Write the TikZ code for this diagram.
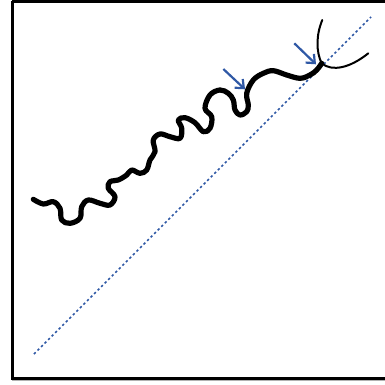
\documentclass[tikz,border=0pt]{standalone}
\usetikzlibrary{arrows.meta}
\definecolor{lineblue}{RGB}{47,88,165}
\tikzset{
	wave/.style={line width=5.2pt, line cap=round, line join=round},
	branch/.style={line width=2pt, line cap=round},
	hit/.style={line width=2.2pt, lineblue, -{Straight Barb[length=7pt,width=12pt]}}
}
\begin{document}
\begin{tikzpicture}[x=1pt,y=-1pt]
	\useasboundingbox (0,0) rectangle (385,385);
	% frame
	\draw[line width=3pt] (12,1.5) -- (12,378) -- (395,378);
	\draw[line width=3pt] (12,1.5) -- (395,1.5);
	\draw[gray!60, line width=1pt] (12,380) -- (395,380);
	
	% diagonal
	\draw[lineblue, line width=1.5pt, dash pattern=on 2.4pt off 2.6pt] (34,354) -- (371,17);
	
	% the wave
	\draw[wave] plot[smooth, tension=0.6] coordinates {(33.3,199.3) (43.3,204) (53.3,201.7) (60,208.3) (61.7,220) (70,223.3) (80,218.3) (81.7,206.7) (88.3,200) (100,203.3) (110,205) (115,196.7) (108.3,188.3) (110,181.7) (118.3,180) (126.7,175) (131.7,170) (140,173.3) (146.7,170) (150,160) (155,151.7) (153.3,140) (160,134) (170,136.7) (180,138.3) (181.7,128.3) (178.3,120) (185,117.7) (195,122.7) (203.3,131.7) (210,128.3) (211.7,116.7) (205,108.3) (210,95) (220,90) (228.3,93.3) (233.3,100) (235,110) (240,115) (246.7,111.7) (248.3,105) (246.7,93.3) (253.3,80) (263.3,73.3) (273.3,70.7) (286.7,75) (300,78.3) (310,75) (316.7,70) (321.7,63.3)};
	\coordinate (split) at (321.7,63.3);
	
	% branches
	\draw[branch] (split) .. controls (316,52) and (316,35) .. (322.3,20);
	\draw[branch] (split) .. controls (332,72) and (350,68) .. (368.3,53.3);
	
	% arrows
	\coordinate (a1) at (223.3,69);
	\coordinate (b1) at (245,89.3);
	\coordinate (a2) at (294.3,43.3);
	\coordinate (b2) at (316,64.3);
	\draw[hit] (a1) -- (b1);
	\draw[hit] (a2) -- (b2);
\end{tikzpicture}
\end{document}
